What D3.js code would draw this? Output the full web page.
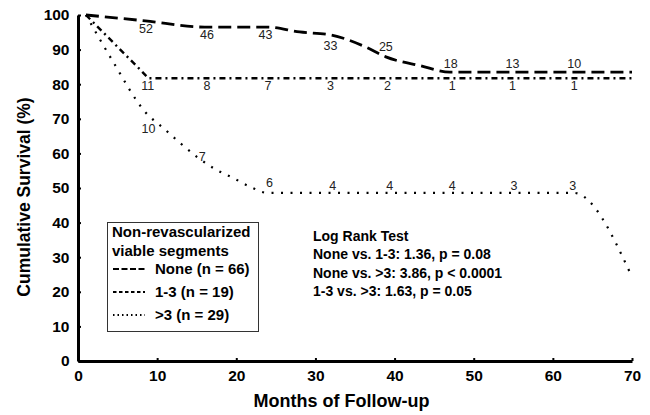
<!DOCTYPE html>
<html>
<head>
<meta charset="utf-8">
<script src="https://cdn.jsdelivr.net/npm/d3@7"></script>
<style>
  html, body { margin: 0; padding: 0; background: #fff; }
  svg { display: block; font-family: "Liberation Sans", Arial, Helvetica, sans-serif; }
</style>
</head>
<body>
<svg id="chart" width="650" height="415"></svg>
<script>
// ---- data ----
const xTicks = [0, 10, 20, 30, 40, 50, 60, 70];
const yTicks = [0, 10, 20, 30, 40, 50, 60, 70, 80, 90, 100];

// Kaplan-Meier curves: [month, survival %]
const noneCurve = [[1,100],[8.5,98.3],[16,96.5],[24,96.5],[28,95.1],[32,94.2],[36.3,90.8],[38.9,87.9],[43.3,85.3],[47,83.5],[70,83.5]];
const midCurve  = [[1,100],[7.9,84.1],[8.9,81.7],[70,81.7]];
const highCurve = [[1,100],[4.3,87],[8.6,71.7],[10.8,67.3],[12.9,63],[15.2,58.7],[17.3,55.5],[19.6,52.9],[21.8,50.3],[23.9,48.6],[62.6,48.6],[70,24.3]];

// numbers at risk (month of label, count, label anchor in % units)
const noneRiskMonths = [8.6, 16.3, 23.7, 31.9, 38.9, 47.1, 54.9, 62.7];
const noneRisk       = [52, 46, 43, 33, 25, 18, 13, 10];
const noneRiskAt     = [94.8, 93.1, 93.1, 89.9, 89.6, 84.7, 84.7, 84.7];

const midRiskMonths  = [8.8, 16.3, 24.0, 31.9, 39.1, 47.3, 54.9, 62.7];
const midRisk        = [11, 8, 7, 3, 2, 1, 1, 1];
const midRiskAt      = [78.3, 78.3, 78.3, 78.3, 78.3, 78.3, 78.3, 78.3];

const highRiskMonths = [8.9, 15.7, 24.2, 32.2, 39.4, 47.3, 55.1, 62.5];
const highRisk       = [10, 7, 6, 4, 4, 4, 3, 3];
const highRiskAt     = [65.9, 57.8, 50.3, 49.4, 49.4, 49.4, 49.4, 49.4];

const legendTitle = ["Non-revascularized", "viable segments"];
const legendLabels = ["None (n = 66)", "1-3 (n = 19)", ">3 (n = 29)"];
const logRankLines = ["Log Rank Test", "None vs. 1-3: 1.36, p = 0.08", "None vs. >3: 3.86, p < 0.0001", "1-3 vs. >3: 1.63, p = 0.05"];

// ---- drawing ----
const svg = d3.select("#chart");
const x = d3.scaleLinear().domain([0, 70]).range([78, 632]);
const y = d3.scaleLinear().domain([0, 100]).range([361, 15]);

const styles = [
  { dash: "13,6", width: 2.8 },          // None
  { dash: "6,4,2,4", width: 2.4 },       // 1-3
  { dash: "2,7.5", width: 2.2 }          // >3
];

const line = d3.line().x(d => x(d[0])).y(d => y(d[1]));
const smooth = d3.line().x(d => x(d[0])).y(d => y(d[1])).curve(d3.curveMonotoneX);

svg.append("path").datum(noneCurve).attr("d", smooth)
  .attr("fill", "none").attr("stroke", "#000").attr("stroke-width", styles[0].width).attr("stroke-dasharray", styles[0].dash);
svg.append("path").datum(midCurve).attr("d", line)
  .attr("fill", "none").attr("stroke", "#000").attr("stroke-width", styles[1].width).attr("stroke-dasharray", styles[1].dash);
svg.append("path").datum(highCurve).attr("d", smooth)
  .attr("fill", "none").attr("stroke", "#000").attr("stroke-width", styles[2].width).attr("stroke-dasharray", styles[2].dash);

// at-risk numbers
function riskLabels(months, vals, at) {
  svg.append("g").selectAll("text").data(vals).join("text")
    .attr("x", (d, i) => x(months[i]))
    .attr("y", (d, i) => y(at[i]))
    .attr("text-anchor", "middle")
    .attr("font-size", 12.5)
    .attr("fill", "#222")
    .text(d => d);
}
riskLabels(noneRiskMonths, noneRisk, noneRiskAt);
riskLabels(midRiskMonths, midRisk, midRiskAt);
riskLabels(highRiskMonths, highRisk, highRiskAt);

// axes
const xAxis = d3.axisBottom(x).tickValues(xTicks).tickSizeInner(-3).tickSizeOuter(0).tickPadding(9);
const yAxis = d3.axisLeft(y).tickValues(yTicks).tickSizeInner(-3).tickSizeOuter(0).tickPadding(8.5);

const gx = svg.append("g").attr("transform", "translate(0,361)").call(xAxis);
const gy = svg.append("g").attr("transform", "translate(78,0)").call(yAxis);
[gx, gy].forEach(g => {
  g.select(".domain").attr("stroke", "#000").attr("stroke-width", 3);
  g.selectAll(".tick line").attr("stroke", "#000").attr("stroke-width", 2);
  g.selectAll(".tick text").attr("font-size", 15.5).attr("font-weight", "bold")
    .attr("fill", "#000").attr("font-family", "'Liberation Sans', Arial, Helvetica, sans-serif");
});

// axis titles
svg.append("text")
  .attr("transform", "translate(30,197) rotate(-90)")
  .attr("text-anchor", "middle").attr("font-size", 17.5).attr("font-weight", "bold")
  .text("Cumulative Survival (%)");
svg.append("text")
  .attr("x", 341.5).attr("y", 407)
  .attr("text-anchor", "middle").attr("font-size", 18).attr("font-weight", "bold")
  .text("Months of Follow-up");

// legend
const lg = svg.append("g");
lg.append("rect").attr("x", 107.5).attr("y", 222.5).attr("width", 151).attr("height", 109)
  .attr("fill", "#fff").attr("stroke", "#333").attr("stroke-width", 1);
lg.selectAll("text.t").data(legendTitle).join("text").attr("class", "t")
  .attr("x", 112).attr("y", (d, i) => 237 + i * 18.5)
  .attr("font-size", 15).attr("font-weight", "bold").text(d => d);
const legendSample = [
  { dash: "6,2.5", width: 2 },
  { dash: "3.5,2.5", width: 2 },
  { dash: "1.5,3", width: 1.8 }
];
legendLabels.forEach((lab, i) => {
  const yy = 269 + i * 23;
  lg.append("line").attr("x1", 113).attr("x2", 145).attr("y1", yy).attr("y2", yy)
    .attr("stroke", "#000").attr("stroke-width", legendSample[i].width).attr("stroke-dasharray", legendSample[i].dash);
  lg.append("text").attr("x", i === 0 ? 155 : 155).attr("y", yy + 5)
    .attr("font-size", 15).attr("font-weight", "bold").text(lab);
});

// log rank text
svg.append("g").selectAll("text").data(logRankLines).join("text")
  .attr("x", 313).attr("y", (d, i) => 241 + i * 18.3)
  .attr("font-size", 14).attr("font-weight", "bold").text(d => d);
</script>
</body>
</html>
